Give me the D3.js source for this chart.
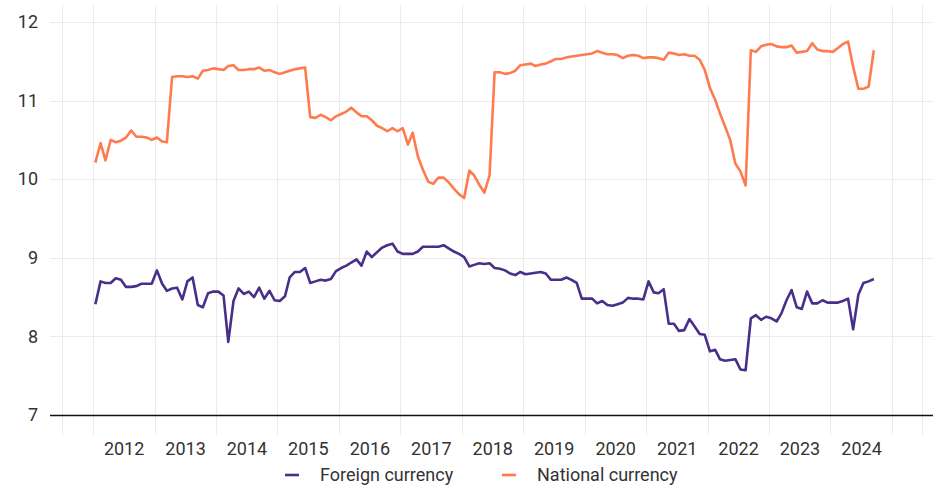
<!DOCTYPE html>
<html>
<head>
<meta charset="utf-8">
<script src="https://cdn.jsdelivr.net/npm/d3@7"></script>
<style>
  body { margin: 0; background: #fff; }
  svg { display: block; font-family: Roboto, "Noto Sans", sans-serif; }
</style>
</head>
<body>
<div id="chart"></div>
<script>
// monthly series, Jan 2012 - Sep 2024
const firstMonth = new Date(2012, 0, 15);

const foreign = [
  8.41, 8.70, 8.68, 8.68, 8.74, 8.72, 8.63, 8.63, 8.64, 8.67, 8.67, 8.67,
  8.84, 8.67, 8.58, 8.61, 8.62, 8.47, 8.70, 8.75, 8.40, 8.37, 8.55, 8.57,
  8.57, 8.52, 7.93, 8.45, 8.61, 8.54, 8.57, 8.50, 8.62, 8.48, 8.58, 8.46,
  8.45, 8.51, 8.75, 8.82, 8.82, 8.87, 8.68, 8.70, 8.72, 8.71, 8.73, 8.83,
  8.87, 8.90, 8.94, 8.98, 8.90, 9.08, 9.01, 9.07, 9.13, 9.16, 9.18, 9.08,
  9.05, 9.05, 9.05, 9.08, 9.14, 9.14, 9.14, 9.14, 9.16, 9.12, 9.08, 9.05,
  9.01, 8.89, 8.91, 8.93, 8.92, 8.93, 8.87, 8.86, 8.84, 8.80, 8.78, 8.82,
  8.79, 8.80, 8.81, 8.82, 8.80, 8.72, 8.72, 8.72, 8.75, 8.72, 8.68, 8.48,
  8.48, 8.48, 8.42, 8.45, 8.40, 8.39, 8.41, 8.43, 8.49, 8.48, 8.48, 8.47,
  8.70, 8.56, 8.55, 8.60, 8.16, 8.16, 8.07, 8.08, 8.22, 8.13, 8.03, 8.02,
  7.81, 7.83, 7.71, 7.69, 7.70, 7.71, 7.58, 7.57, 8.23, 8.27, 8.21, 8.25,
  8.23, 8.19, 8.29, 8.46, 8.59, 8.37, 8.35, 8.57, 8.42, 8.42, 8.46, 8.43,
  8.43, 8.43, 8.45, 8.48, 8.09, 8.53, 8.68, 8.70, 8.73
];

const national = [
  10.21, 10.46, 10.24, 10.50, 10.47, 10.49, 10.53, 10.62, 10.54, 10.54, 10.53, 10.50,
  10.53, 10.48, 10.47, 11.30, 11.31, 11.31, 11.30, 11.31, 11.28, 11.38, 11.39, 11.41,
  11.40, 11.39, 11.44, 11.45, 11.39, 11.39, 11.40, 11.40, 11.42, 11.38, 11.39, 11.36,
  11.34, 11.36, 11.38, 11.40, 11.41, 11.42, 10.79, 10.78, 10.82, 10.79, 10.75, 10.80,
  10.83, 10.86, 10.91, 10.85, 10.80, 10.80, 10.75, 10.68, 10.65, 10.61, 10.65, 10.61,
  10.65, 10.44, 10.59, 10.29, 10.12, 9.97, 9.94, 10.02, 10.02, 9.96, 9.88, 9.81,
  9.76, 10.11, 10.05, 9.93, 9.83, 10.05, 11.36, 11.36, 11.34, 11.35, 11.38, 11.45,
  11.46, 11.47, 11.44, 11.46, 11.47, 11.50, 11.53, 11.53, 11.55, 11.56, 11.57, 11.58,
  11.59, 11.60, 11.63, 11.61, 11.59, 11.59, 11.58, 11.54, 11.57, 11.58, 11.57, 11.54,
  11.55, 11.55, 11.54, 11.52, 11.61, 11.60, 11.58, 11.59, 11.57, 11.57, 11.52, 11.39,
  11.16, 11.01, 10.84, 10.67, 10.50, 10.20, 10.10, 9.92, 11.64, 11.62, 11.69, 11.71,
  11.72, 11.69, 11.68, 11.68, 11.70, 11.61, 11.62, 11.63, 11.73, 11.65, 11.63, 11.63,
  11.62, 11.67, 11.72, 11.75, 11.43, 11.15, 11.15, 11.18, 11.64
];

const yTicks = [7, 8, 9, 10, 11, 12];
const yearLabels = d3.range(2012, 2025);
const seriesNames = ["Foreign currency", "National currency"];
const colors = ["#472f8a", "#ff7b4d"];

const width = 939, height = 488;

const svg = d3.select("#chart").append("svg")
  .attr("width", width)
  .attr("height", height);

const x = d3.scaleTime()
  .domain([new Date(2012, 0, 1), new Date(2025, 0, 1)])
  .range([93, 892]);

const y = d3.scaleLinear()
  .domain([7, 12])
  .range([415, 22]);

const months = foreign.map((d, i) => d3.timeMonth.offset(firstMonth, i));

// vertical grid: every Jan 1, plus half-year edges
const vLines = [new Date(2011, 6, 1)]
  .concat(d3.range(2012, 2026).map(yr => new Date(yr, 0, 1)))
  .concat([new Date(2025, 6, 1)]);

svg.append("g")
  .selectAll("line")
  .data(vLines)
  .enter()
  .append("line")
    .attr("x1", d => Math.round(x(d)) + 0.5)
    .attr("x2", d => Math.round(x(d)) + 0.5)
    .attr("y1", 5)
    .attr("y2", 435)
    .attr("stroke", "#ebebeb")
    .attr("stroke-width", 1);

// horizontal grid
svg.append("g")
  .selectAll("line")
  .data(yTicks.filter(d => d > 7))
  .enter()
  .append("line")
    .attr("x1", 50)
    .attr("x2", 933)
    .attr("y1", d => Math.round(y(d)) + 0.5)
    .attr("y2", d => Math.round(y(d)) + 0.5)
    .attr("stroke", "#ebebeb")
    .attr("stroke-width", 1);

// baseline at 7
svg.append("line")
  .attr("x1", 50)
  .attr("x2", 933)
  .attr("y1", Math.round(y(7)) + 0.5)
  .attr("y2", Math.round(y(7)) + 0.5)
  .attr("stroke", "#111")
  .attr("stroke-width", 1.3);

// axes (labels only)
const yAxis = svg.append("g")
  .attr("transform", "translate(50,0)")
  .call(d3.axisLeft(y).tickValues(yTicks).tickSize(0).tickPadding(12).tickFormat(d3.format("d")));

const xAxis = svg.append("g")
  .attr("transform", `translate(0,${y(7)})`)
  .call(d3.axisBottom(x)
    .tickValues(yearLabels.map(yr => new Date(yr, 6, 1)))
    .tickSize(0)
    .tickPadding(27)
    .tickFormat(d3.timeFormat("%Y")));

[yAxis, xAxis].forEach(g => {
  g.select(".domain").remove();
  g.selectAll("text")
    .attr("font-family", "Roboto, sans-serif")
    .attr("font-size", 18)
    .attr("fill", "#333");
});

// lines
const line = d3.line()
  .x((d, i) => x(months[i]))
  .y(d => y(d));

[foreign, national].forEach((vals, k) => {
  svg.append("path")
    .datum(vals)
    .attr("fill", "none")
    .attr("stroke", colors[k])
    .attr("stroke-width", 2.6)
    .attr("stroke-linejoin", "round")
    .attr("d", line);
});

// legend
const legendX = [285, 502];
const legend = svg.append("g");
seriesNames.forEach((name, k) => {
  legend.append("line")
    .attr("x1", legendX[k])
    .attr("x2", legendX[k] + 14)
    .attr("y1", 475)
    .attr("y2", 475)
    .attr("stroke", colors[k])
    .attr("stroke-width", 2.6);
  legend.append("text")
    .attr("x", legendX[k] + 35)
    .attr("y", 481)
    .attr("font-size", 18)
    .attr("fill", "#333")
    .text(name);
});
</script>
</body>
</html>
